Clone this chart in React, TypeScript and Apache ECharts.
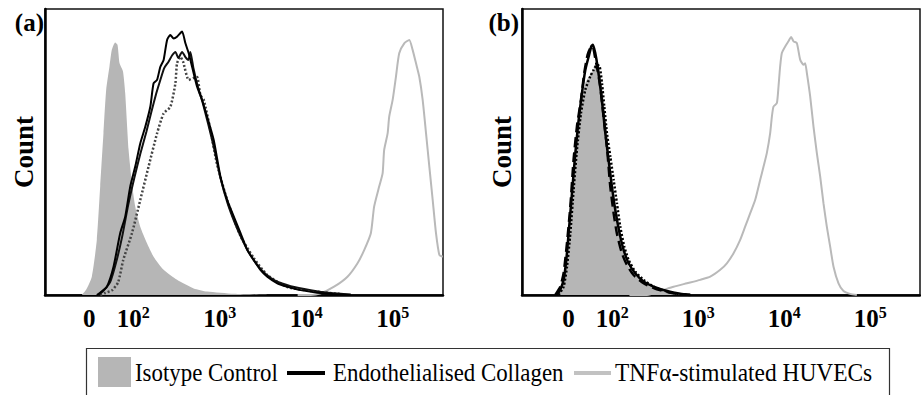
import React, { useEffect, useRef } from "react";
import * as echarts from "echarts";

// x values are positions on the biexponential display axis, in decades (10^k sits at k; "0" sits at 1.49)
// y values are counts as % of the panel's full height
const X_TICKS = [1.49, 2, 3, 4, 5];
const X_TICK_EXP = ["", "2", "3", "4", "5"];

const isotypeA = [[1.406,0],[1.455,1.8],[1.521,6.4],[1.579,19.3],[1.618,38.0],[1.656,56.6],[1.687,71.7],[1.725,79.9],[1.753,85.8],[1.791,88.3],[1.818,87.5],[1.841,81.1],[1.881,78.2],[1.907,70.5],[1.946,50.8],[1.985,39.1],[2.023,30.9],[2.081,23.9],[2.159,18.1],[2.235,13.4],[2.351,8.8],[2.506,5.3],[2.699,2.3],[2.854,1.2],[3.162,0.4],[3.549,0]];
const collagenA1 = [[1.579,0],[1.618,0.8],[1.695,2.9],[1.772,9.9],[1.849,21.6],[1.907,27.4],[1.965,37.9],[2.023,44.9],[2.081,53],[2.139,58.8],[2.197,65.8],[2.235,74],[2.275,75.2],[2.313,79.8],[2.351,82.2],[2.391,89.2],[2.429,90.9],[2.467,89.7],[2.506,90.3],[2.564,92.1],[2.603,88],[2.641,84.5],[2.680,79.8],[2.738,72.8],[2.796,68.2],[2.854,62.3],[2.930,54.2],[3.008,41.4],[3.086,33.2],[3.162,27.4],[3.240,21.6],[3.318,15.7],[3.394,12.2],[3.472,8.7],[3.549,6.4],[3.665,4.1],[3.781,2.9],[3.935,1.7],[4.129,0.8],[4.317,0.3],[4.514,0]];
const collagenA2 = [[1.594,0],[1.652,1.4],[1.733,4.5],[1.803,11.5],[1.873,20.6],[1.942,31.5],[2.012,40.9],[2.081,49.3],[2.151,57],[2.209,64],[2.267,70.6],[2.313,75.2],[2.359,79.4],[2.406,81.5],[2.452,83.9],[2.487,85],[2.521,82.9],[2.564,85],[2.603,83.2],[2.637,82.2],[2.660,85],[2.695,79.4],[2.742,73.4],[2.800,67.5],[2.869,59.4],[2.939,50.7],[3.008,40.9],[3.089,32.2],[3.170,25.5],[3.251,19.9],[3.333,15],[3.425,10.8],[3.530,7.3],[3.645,4.9],[3.819,3.1],[4.051,1.7],[4.283,0.7],[4.514,0.2]];
const collagenA3 = [[1.618,0],[1.676,0.7],[1.757,1.7],[1.826,4.5],[1.884,12.2],[1.985,21.6],[2.081,33.2],[2.177,44.9],[2.275,56.5],[2.351,63.5],[2.429,65.8],[2.487,74],[2.506,81],[2.545,83.3],[2.576,81.6],[2.641,75.2],[2.699,75.9],[2.738,76.2],[2.776,69.9],[2.815,68.2],[2.892,57.7],[2.970,45.5],[3.086,33.2],[3.240,20.6],[3.394,12.9],[3.549,7],[3.781,2.8],[4.051,1.4],[4.399,0.3]];
const tnfA = [[3.9,0],[4.051,0],[4.167,0.6],[4.321,2.9],[4.476,6.4],[4.592,11.1],[4.669,15.7],[4.746,21.6],[4.784,30.9],[4.842,37.9],[4.882,42.5],[4.900,50.7],[4.940,56.5],[4.958,62.3],[4.998,68.2],[5.036,76.3],[5.074,84.5],[5.132,88],[5.190,89.2],[5.229,85.7],[5.268,81],[5.306,76.3],[5.345,68.2],[5.384,56.5],[5.422,44.9],[5.461,33.2],[5.499,21.6],[5.538,14],[5.577,13.4]];

const isotypeB = [[1.337,0],[1.395,1.8],[1.434,5.3],[1.473,14.6],[1.512,26.3],[1.550,40.3],[1.589,54.3],[1.628,65.9],[1.686,74.1],[1.744,77.0],[1.802,79.9],[1.829,80.5],[1.860,77.6],[1.899,68.3],[1.938,56.6],[1.977,44.9],[2.016,34.4],[2.054,26.3],[2.093,19.3],[2.132,14.6],[2.171,11.1],[2.209,8.8],[2.287,6.4],[2.403,3.5],[2.558,1.8],[2.713,0.6],[2.868,0]];
const collagenB1 = [[1.357,0],[1.395,1.8],[1.434,5.3],[1.465,12.2],[1.492,21.5],[1.531,35.5],[1.570,49.5],[1.609,61.2],[1.647,70.5],[1.686,78.6],[1.725,83.3],[1.756,86.9],[1.775,87.5],[1.802,84.6],[1.829,79.9],[1.860,72.9],[1.891,64.8],[1.919,56.6],[1.957,47.3],[1.996,38.0],[2.035,29.8],[2.085,21.6],[2.132,15.8],[2.190,11.1],[2.267,7.6],[2.364,4.7],[2.481,2.9],[2.636,1.4],[2.791,0.4],[2.907,0]];
const collagenB2 = [[1.337,0],[1.395,2.9],[1.434,7.6],[1.473,18.1],[1.512,30.9],[1.550,47.3],[1.589,58.9],[1.636,68.3],[1.674,77.6],[1.713,84.0],[1.744,86.3],[1.771,86.9],[1.802,82.8],[1.829,78.6],[1.860,72.9],[1.899,62.3],[1.938,51.8],[1.977,37.9],[2.016,28.6],[2.054,21.5],[2.112,14.6],[2.171,10.5],[2.248,7.0],[2.364,4.1],[2.519,2.0],[2.713,0.6],[2.907,0]];
const collagenB3 = [[1.376,0],[1.434,2.9],[1.473,9.9],[1.512,21.6],[1.550,36.7],[1.589,50.8],[1.636,63.6],[1.686,71.7],[1.744,76.4],[1.783,78.7],[1.822,80.5],[1.853,79.9],[1.880,74.1],[1.907,65.9],[1.938,56.6],[1.977,48.4],[2.016,40.2],[2.054,32.1],[2.093,23.9],[2.140,16.9],[2.190,12.3],[2.267,8.2],[2.364,5.3],[2.481,2.9],[2.636,1.2],[2.791,0.2],[2.907,0]];
const tnfB = [[2.2,0],[2.403,0],[2.597,1.8],[2.713,2.9],[2.868,4.1],[3.023,5.3],[3.140,6.4],[3.256,8.8],[3.333,11.1],[3.411,14.6],[3.488,19.3],[3.547,24.0],[3.605,28.6],[3.663,33.3],[3.721,40.3],[3.760,44.9],[3.798,49.6],[3.837,56.6],[3.857,62.4],[3.876,65.9],[3.915,67.1],[3.934,72.9],[3.953,79.9],[3.973,84.6],[4.012,86.9],[4.050,88.7],[4.081,90.2],[4.109,88.7],[4.147,88.1],[4.186,82.3],[4.225,80.5],[4.244,81.0],[4.264,77.6],[4.302,69.5],[4.341,58.9],[4.380,49.6],[4.419,41.4],[4.457,32.1],[4.496,23.9],[4.535,16.9],[4.574,9.9],[4.632,4.1],[4.690,1.4],[4.767,0.4],[4.845,0]];

const LEGEND_LABELS = ["Isotype Control", "Endothelialised Collagen", "TNF\u03b1-stimulated HUVECs"];
const PANEL_LABELS = ["(a)", "(b)"];
const Y_NAME = "Count";

const SERIF = "Liberation Serif";
const FILL_GRAY = "#b6b6b6";
const LINE_GRAY = "#b9b9b9";

export default function App() {
  const ref = useRef<HTMLDivElement>(null);
  useEffect(() => {
    if (!ref.current) return;
    const chart = echarts.init(ref.current, undefined, { renderer: "svg" });

    const tickFormatter = (v: number) => {
      let idx = 0;
      X_TICKS.forEach((t, i) => {
        if (Math.abs(t - v) < Math.abs(X_TICKS[idx] - v)) idx = i;
      });
      return idx === 0 ? "{b|0}" : `{b|10}{s|${X_TICK_EXP[idx]}}`;
    };

    const grids = [
      { left: 45, top: 9, width: 398, height: 286 },
      { left: 522, top: 9, width: 398, height: 286 },
    ];
    const mins = [0.98, 0.95];

    const mk = (name: string, data: number[][], gi: number, lineStyle: any, extra: any = {}) => ({
      type: "line",
      name,
      data,
      xAxisIndex: gi,
      yAxisIndex: gi,
      showSymbol: false,
      symbol: "none",
      smooth: 0.2,
      silent: true,
      lineStyle,
      ...extra,
    });

    const txt = (text: string, size: number, weight: string = "normal") => ({
      text,
      fontSize: size,
      fontFamily: SERIF,
      fontWeight: weight,
      fill: "#000",
    });

    const option: any = {
      animation: false,
      grid: grids.map((g) => ({ ...g, show: true, borderColor: "#111", borderWidth: 1.5, backgroundColor: "#fff" })),
      xAxis: grids.map((_, i) => ({
        type: "value",
        gridIndex: i,
        min: mins[i],
        max: 5.58,
        axisLine: { show: true, onZero: false, lineStyle: { color: "#000", width: 2.5 } },
        axisTick: { show: false },
        splitLine: { show: false },
        axisLabel: {
          customValues: X_TICKS,
          formatter: tickFormatter,
          margin: 8,
          rich: {
            b: { fontSize: 25, lineHeight: 28, fontWeight: "bold", fontFamily: SERIF, color: "#000", verticalAlign: "bottom" },
            s: { fontSize: 16, lineHeight: 16, fontWeight: "bold", fontFamily: SERIF, color: "#000", verticalAlign: "bottom", padding: [0, 0, 11, 0] },
          },
        },
      })),
      yAxis: grids.map((_, i) => ({
        type: "value",
        gridIndex: i,
        min: 0,
        max: 100,
        axisLine: { show: true, lineStyle: { color: "#000", width: 2.5 } },
        axisTick: { show: false },
        axisLabel: { show: false },
        splitLine: { show: false },
      })),
      series: [
        mk(LEGEND_LABELS[0], isotypeA, 0, { width: 0, color: FILL_GRAY }, { areaStyle: { color: FILL_GRAY, opacity: 1 }, z: 1 }),
        mk(LEGEND_LABELS[2], tnfA, 0, { width: 2, color: LINE_GRAY }, { z: 2 }),
        mk(LEGEND_LABELS[1] + " 3", collagenA3, 0, { width: 2.5, color: "#444", type: [2, 2] }, { z: 3 }),
        mk(LEGEND_LABELS[1] + " 2", collagenA2, 0, { width: 2, color: "#111" }, { z: 4 }),
        mk(LEGEND_LABELS[1] + " 1", collagenA1, 0, { width: 2, color: "#000" }, { z: 5 }),

        mk(LEGEND_LABELS[0], isotypeB, 1, { width: 0, color: FILL_GRAY }, { areaStyle: { color: FILL_GRAY, opacity: 1 }, z: 1 }),
        mk(LEGEND_LABELS[2], tnfB, 1, { width: 2, color: LINE_GRAY }, { z: 2 }),
        mk(LEGEND_LABELS[1] + " 3", collagenB3, 1, { width: 2.5, color: "#000", type: [2, 2] }, { z: 3 }),
        mk(LEGEND_LABELS[1] + " 2", collagenB2, 1, { width: 2.5, color: "#000", type: [10, 5] }, { z: 4 }),
        mk(LEGEND_LABELS[1] + " 1", collagenB1, 1, { width: 2.5, color: "#000" }, { z: 5 }),
      ],
      graphic: [
        { type: "text", x: 44, y: 22, style: { ...txt(PANEL_LABELS[0], 25, "bold"), textAlign: "right", textVerticalAlign: "middle" }, z: 10 },
        { type: "text", x: 519, y: 22, style: { ...txt(PANEL_LABELS[1], 25, "bold"), textAlign: "right", textVerticalAlign: "middle" }, z: 10 },
        { type: "text", x: 24, y: 152, rotation: Math.PI / 2, style: { ...txt(Y_NAME, 27, "bold"), textAlign: "center", textVerticalAlign: "middle" }, z: 10 },
        { type: "text", x: 502, y: 152, rotation: Math.PI / 2, style: { ...txt(Y_NAME, 27, "bold"), textAlign: "center", textVerticalAlign: "middle" }, z: 10 },
        // legend box
        { type: "rect", shape: { x: 86.5, y: 348.5, width: 803, height: 70 }, style: { fill: "#fff", stroke: "#333", lineWidth: 1.2 }, z: 10 },
        { type: "rect", shape: { x: 98, y: 357, width: 33, height: 30 }, style: { fill: FILL_GRAY }, z: 11 },
        { type: "text", x: 135, y: 372, scaleX: 0.88, style: { ...txt(LEGEND_LABELS[0], 26), textVerticalAlign: "middle" }, z: 11 },
        { type: "line", shape: { x1: 287, y1: 373, x2: 325, y2: 373 }, style: { stroke: "#000", lineWidth: 4 }, z: 11 },
        { type: "text", x: 333, y: 372, scaleX: 0.88, style: { ...txt(LEGEND_LABELS[1], 26), textVerticalAlign: "middle" }, z: 11 },
        { type: "line", shape: { x1: 574, y1: 373, x2: 611, y2: 373 }, style: { stroke: "#c2c2c2", lineWidth: 4 }, z: 11 },
        { type: "text", x: 615, y: 372, scaleX: 0.9, style: { ...txt(LEGEND_LABELS[2], 26), textVerticalAlign: "middle" }, z: 11 },
      ],
    };
    chart.setOption(option);
    return () => chart.dispose();
  }, []);
  return <div ref={ref} style={{ width: 921, height: 395, position: "absolute", left: 0, top: 0 }} />;
}
